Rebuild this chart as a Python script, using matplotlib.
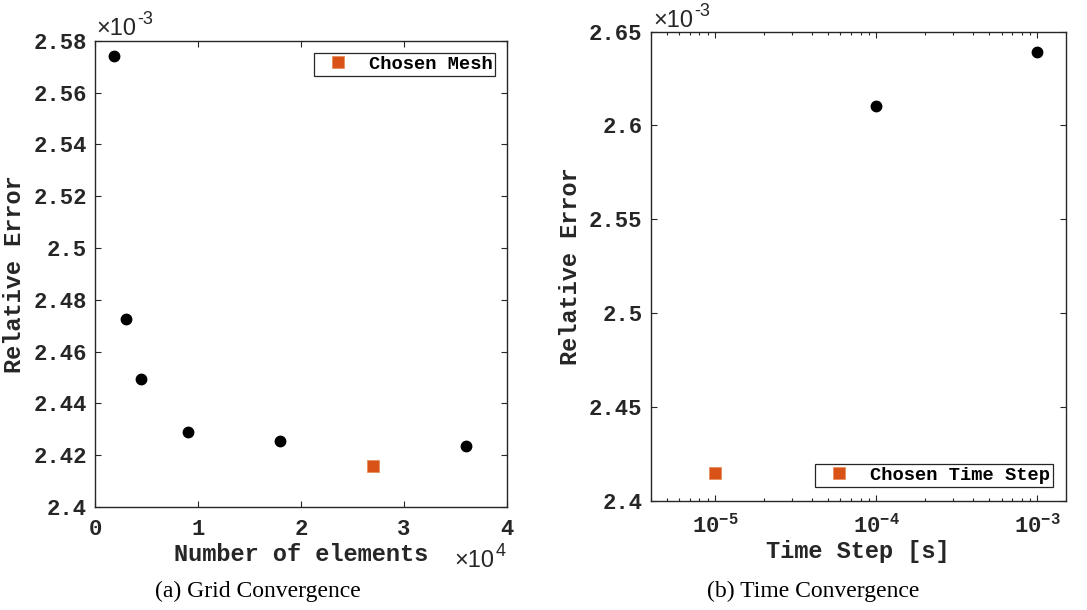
import numpy as np
import matplotlib
matplotlib.use("Agg")
import matplotlib.pyplot as plt
from matplotlib.ticker import FixedLocator, FuncFormatter, LogLocator, NullFormatter

# -------------------------
# Data
# -------------------------

# (a) grid convergence
mesh_elements = [1800, 3000, 4500, 9000, 18000, 36000]
mesh_error = [2.5741e-3, 2.4726e-3, 2.4493e-3, 2.4291e-3, 2.4255e-3, 2.4234e-3]
chosen_mesh = [27000]
chosen_mesh_error = [2.4157e-3]

# (b) time convergence
time_steps = [1e-4, 1e-3]
time_error = [2.6104e-3, 2.6393e-3]
chosen_step = [1e-5]
chosen_step_error = [2.4146e-3]

grid_yticks = [2.40e-3, 2.42e-3, 2.44e-3, 2.46e-3, 2.48e-3, 2.50e-3, 2.52e-3, 2.54e-3, 2.56e-3, 2.58e-3]
grid_xticks = [0, 10000, 20000, 30000, 40000]
time_yticks = [2.40e-3, 2.45e-3, 2.50e-3, 2.55e-3, 2.60e-3, 2.65e-3]
time_xticks = [1e-5, 1e-4, 1e-3]

# -------------------------
# Style
# -------------------------

DARK = "#262626"
ORANGE = "#D95319"
MONO = "Liberation Mono"
SANS = "Liberation Sans"
SERIF = "Liberation Serif"

plt.rcParams["mathtext.fontset"] = "custom"
plt.rcParams["mathtext.rm"] = "Liberation Mono:bold"
plt.rcParams["mathtext.bf"] = "Liberation Mono:bold"
plt.rcParams["mathtext.default"] = "rm"


def style_axes(ax):
    for sp in ax.spines.values():
        sp.set_color(DARK)
        sp.set_linewidth(1.0)
    ax.tick_params(which="both", direction="in", top=True, right=True, colors=DARK,
                   width=0.8)
    ax.tick_params(which="major", length=4.5)
    ax.tick_params(axis="y", which="major", pad=6)
    ax.tick_params(axis="x", which="major", pad=9)
    ax.tick_params(which="minor", length=2.5)
    for lab in ax.get_xticklabels() + ax.get_yticklabels():
        lab.set_fontfamily(MONO)
        lab.set_fontweight("bold")
        lab.set_fontsize(16)


def mantissa(v, scale):
    return f"{round(v / scale, 4):g}"


def exponent_label(fig, x, y, exp):
    fig.text(x, y, "\u00d710", fontfamily=SANS, fontsize=17, color=DARK,
             ha="left", va="baseline")
    fig.text(x + 0.0375, y + 0.017, exp, fontfamily=SANS, fontsize=13, color=DARK,
             ha="left", va="baseline")


fig = plt.figure(figsize=(10.87, 6.10), dpi=100)

# -------------------------
# (a) Grid convergence
# -------------------------
ax1 = fig.add_axes([0.0874, 0.1689, 0.379, 0.764])
ax1.plot(mesh_elements, mesh_error, "o", color="black", markersize=7.5, zorder=3)
ax1.plot(chosen_mesh, chosen_mesh_error, "s", color=ORANGE, markersize=8.5,
         markeredgecolor="#e8905f", markeredgewidth=0.6, label="Chosen Mesh", zorder=3)
ax1.set_xlim(0, 40000)
ax1.set_ylim(2.40e-3, 2.58e-3)
ax1.xaxis.set_major_locator(FixedLocator(grid_xticks))
ax1.yaxis.set_major_locator(FixedLocator(grid_yticks))
ax1.xaxis.set_major_formatter(FuncFormatter(lambda v, p: mantissa(v, 1e4)))
ax1.yaxis.set_major_formatter(FuncFormatter(lambda v, p: mantissa(v, 1e-3)))
style_axes(ax1)
ax1.set_xlabel("Number of elements", fontfamily=MONO, fontweight="bold",
               fontsize=17, color=DARK, labelpad=2)
ax1.set_ylabel("Relative Error", fontfamily=MONO, fontweight="bold",
               fontsize=17, color=DARK, labelpad=5)
leg1 = ax1.legend(loc="upper right", bbox_to_anchor=(0.972, 0.974), frameon=True,
                  fancybox=False, edgecolor=DARK, framealpha=1,
                  prop={"family": MONO, "weight": "bold", "size": 13.5},
                  handlelength=2.3, handletextpad=0.5, borderpad=0.15,
                  borderaxespad=0)
leg1.get_frame().set_linewidth(0.9)

exponent_label(fig, 0.089, 0.943, "-3")
exponent_label(fig, 0.418, 0.071, "4")

# -------------------------
# (b) Time convergence
# -------------------------
ax2 = fig.add_axes([0.5986, 0.1792, 0.382, 0.769])
ax2.plot(time_steps, time_error, "o", color="black", markersize=7.5, zorder=3)
ax2.plot(chosen_step, chosen_step_error, "s", color=ORANGE, markersize=8.5,
         markeredgecolor="#e8905f", markeredgewidth=0.6, label="Chosen Time Step", zorder=3)
ax2.set_xscale("log")
ax2.set_xlim(10 ** -5.4, 10 ** -2.822)
ax2.set_ylim(2.40e-3, 2.65e-3)
ax2.xaxis.set_major_locator(FixedLocator(time_xticks))
ax2.xaxis.set_minor_locator(LogLocator(base=10, subs=np.arange(2, 10)))
ax2.xaxis.set_minor_formatter(NullFormatter())
ax2.xaxis.set_major_formatter(
    FuncFormatter(lambda v, p: r"$10^{%d}$" % int(round(np.log10(v)))))
ax2.yaxis.set_major_locator(FixedLocator(time_yticks))
ax2.yaxis.set_major_formatter(FuncFormatter(lambda v, p: mantissa(v, 1e-3)))
style_axes(ax2)
ax2.set_xlabel("Time Step [s]", fontfamily=MONO, fontweight="bold",
               fontsize=17, color=DARK, labelpad=2)
ax2.set_ylabel("Relative Error", fontfamily=MONO, fontweight="bold",
               fontsize=17, color=DARK, labelpad=5)
leg2 = ax2.legend(loc="lower right", bbox_to_anchor=(0.969, 0.03), frameon=True,
                  fancybox=False, edgecolor=DARK, framealpha=1,
                  prop={"family": MONO, "weight": "bold", "size": 13.5},
                  handlelength=2.3, handletextpad=0.5, borderpad=0.15,
                  borderaxespad=0)
leg2.get_frame().set_linewidth(0.9)

exponent_label(fig, 0.601, 0.956, "-3")

# -------------------------
# Captions
# -------------------------
fig.text(0.2375, 0.022, "(a) Grid Convergence", fontfamily=SERIF, fontsize=17,
         color="black", ha="center", va="baseline")
fig.text(0.748, 0.022, "(b) Time Convergence", fontfamily=SERIF, fontsize=17,
         color="black", ha="center", va="baseline")

fig.savefig("out.png", dpi=100)
